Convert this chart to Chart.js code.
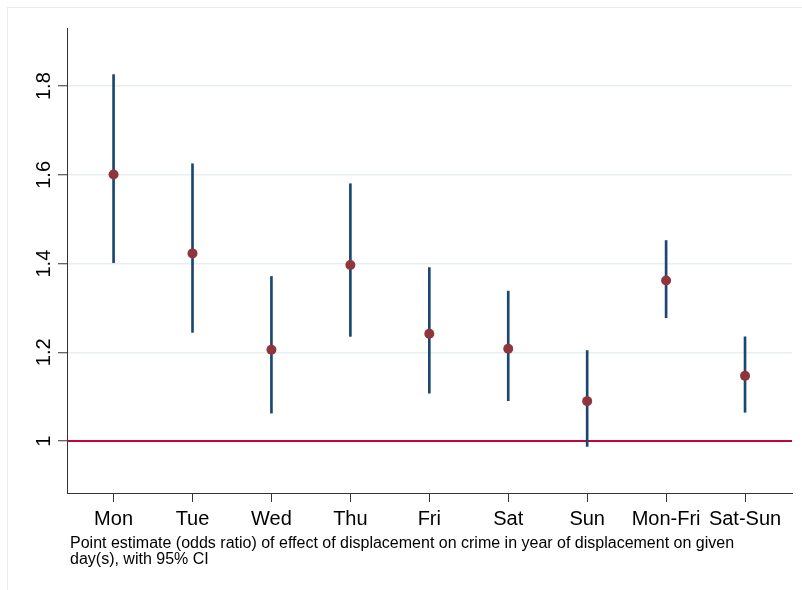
<!DOCTYPE html>
<html>
<head>
<meta charset="utf-8">
<script src="https://cdn.jsdelivr.net/npm/chart.js@4/dist/chart.umd.min.js"></script>
<style>
  html, body { margin: 0; padding: 0; background: #fff; }
  #wrap { position: relative; width: 802px; height: 590px; overflow: hidden; }
  #frame { position: absolute; left: 7px; top: 7px; width: 900px; height: 900px;
           border-left: 1px solid #e4ecef; border-top: 1px solid #e4ecef; box-sizing: border-box; }
  canvas { position: absolute; left: 0; top: 0; }
</style>
</head>
<body>
<div id="wrap">
  <div id="frame"></div>
  <canvas id="c" width="802" height="590"></canvas>
</div>
<script>
const categories = ['Mon', 'Tue', 'Wed', 'Thu', 'Fri', 'Sat', 'Sun', 'Mon-Fri', 'Sat-Sun'];
const estimates  = [1.601, 1.423, 1.206, 1.397, 1.242, 1.208, 1.090, 1.362, 1.147];
const ciLow      = [1.402, 1.245, 1.063, 1.236, 1.108, 1.091, 0.988, 1.278, 1.065];
const ciHigh     = [1.826, 1.625, 1.371, 1.580, 1.391, 1.338, 1.204, 1.452, 1.235];
const yTicks     = [1, 1.2, 1.4, 1.6, 1.8];
const yTickLabels = ['1', '1.2', '1.4', '1.6', '1.8'];
const referenceValue = 1;
const captionLines = [
  'Point estimate (odds ratio) of effect of displacement on crime in year of displacement on given',
  'day(s), with 95% CI'
];

const FONT = '"Liberation Sans", Arial, sans-serif';
const xMin = -0.59, xMax = categories.length - 1 + 0.595;

const textPlugin = {
  id: 'textPlugin',
  afterDraw(chart) {
    const ys = chart.scales.y;
    const ctx = chart.ctx;
    ctx.save();
    ctx.fillStyle = '#000';
    ctx.font = '20px ' + FONT;
    ctx.textAlign = 'center';
    ctx.textBaseline = 'alphabetic';
    yTicks.forEach((v, i) => {
      const py = ys.getPixelForValue(v);
      ctx.save();
      ctx.translate(50, py);
      ctx.rotate(-Math.PI / 2);
      ctx.fillText(yTickLabels[i], 0, 0);
      ctx.restore();
    });
    ctx.font = '16px ' + FONT;
    ctx.textAlign = 'left';
    ctx.textBaseline = 'middle';
    captionLines.forEach((line, i) => {
      ctx.fillText(line, chart.chartArea.left + 3, chart.chartArea.bottom + 51 + i * 16);
    });
    ctx.restore();
  }
};

new Chart(document.getElementById('c'), {
  data: {
    datasets: [
      {
        type: 'line',
        data: [{x: xMin, y: referenceValue}, {x: xMax, y: referenceValue}],
        borderColor: '#c10534',
        borderWidth: 2,
        pointRadius: 0,
        order: 3
      },
      {
        type: 'bar',
        data: categories.map((c, i) => ({x: i, y: [ciLow[i], ciHigh[i]]})),
        backgroundColor: '#1a476f',
        borderWidth: 0,
        barThickness: 2,
        order: 2
      },
      {
        type: 'scatter',
        data: categories.map((c, i) => ({x: i, y: estimates[i]})),
        backgroundColor: '#90353b',
        borderColor: '#90353b',
        pointRadius: 5,
        pointBorderWidth: 0,
        order: 1
      }
    ]
  },
  options: {
    responsive: false,
    animation: false,
    layout: { padding: { left: 0, top: 28, right: 10, bottom: 0 } },
    plugins: { legend: { display: false }, tooltip: { enabled: false } },
    scales: {
      x: {
        type: 'linear',
        min: xMin,
        max: xMax,
        offset: false,
        afterBuildTicks: (s) => { s.ticks = categories.map((c, i) => ({value: i})); },
        afterFit: (s) => { s.height = 97; },
        ticks: {
          callback: (v) => categories[Math.round(v)] ?? '',
          autoSkip: false,
          maxRotation: 0,
          minRotation: 0,
          color: '#000',
          font: { family: FONT, size: 20 },
          padding: 5
        },
        grid: { offset: false, drawOnChartArea: false, drawTicks: true, tickLength: 9, tickColor: '#333', tickWidth: 1 },
        border: { display: true, color: '#333', width: 1 }
      },
      y: {
        type: 'linear',
        min: 0.883,
        max: 1.931,
        afterBuildTicks: (s) => { s.ticks = yTicks.map(v => ({value: v})); },
        afterFit: (s) => { s.width = 67; },
        ticks: { display: false },
        grid: {
          color: (ctx) => ctx.tick && ctx.tick.value === referenceValue ? 'rgba(0,0,0,0)' : '#e8eff1',
          lineWidth: 1.5,
          drawTicks: true,
          tickLength: 9,
          tickColor: '#333',
          tickWidth: 1
        },
        border: { display: true, color: '#333', width: 1 }
      }
    }
  },
  plugins: [textPlugin]
});
</script>
</body>
</html>
